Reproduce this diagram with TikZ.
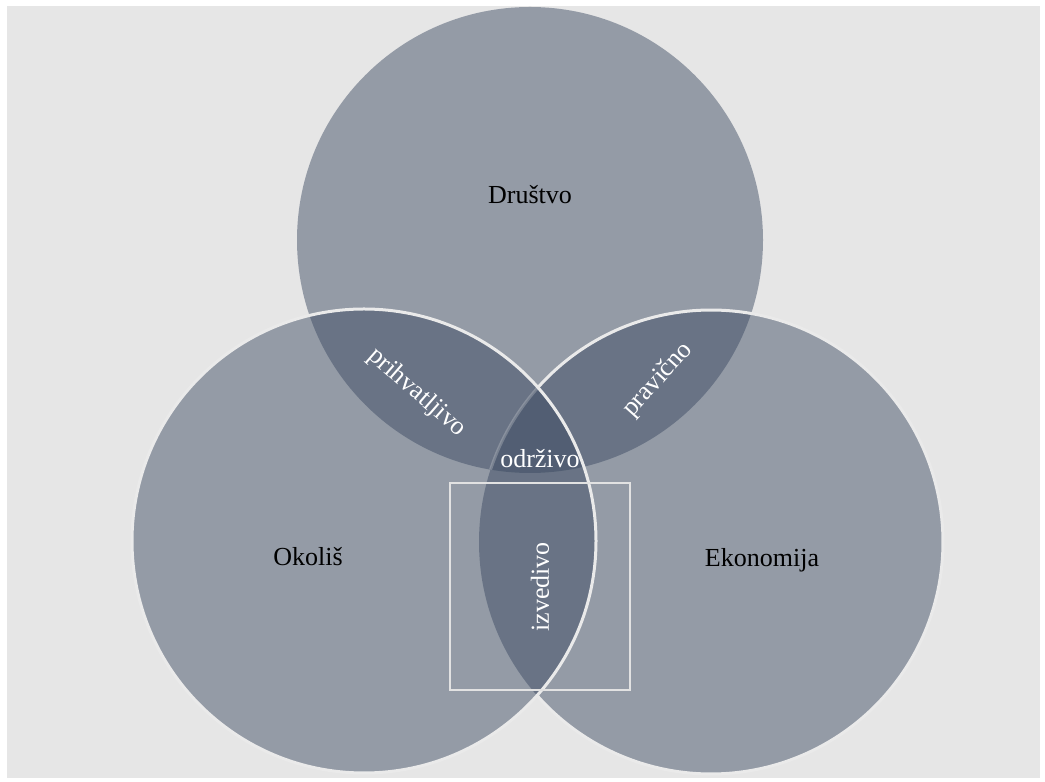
\documentclass[tikz,border=0pt]{standalone}
\usepackage{fontspec}
\setmainfont{Liberation Serif}
\definecolor{vennc}{RGB}{57,72,96}
\definecolor{bgc}{RGB}{230,230,230}
\definecolor{rimc}{RGB}{234,234,234}
\definecolor{boxc}{RGB}{226,226,226}
\begin{document}
\begin{tikzpicture}[x=1pt,y=1pt,
  venn/.style={fill=vennc, fill opacity=0.47},
  rim/.style={draw=rimc, line width=3pt},
  lbl/.style={font=\fontsize{26}{30}\selectfont, text=black, inner sep=0pt},
  wlbl/.style={lbl, text=white}]
\useasboundingbox (0,0) rectangle (1045,782);
\fill[white] (0,0) rectangle (1045,782);
\fill[bgc] (7,4) rectangle (1040,776);
\coordinate (T) at (530,542);
\coordinate (L) at (364,241);
\coordinate (R) at (711,240);
\fill[venn] (T) circle[radius=233];
\fill[venn] (R) circle[radius=232];
\fill[venn] (L) circle[radius=232];
\draw[rim] (R) ++(138.3:232) arc[start angle=138.3, end angle=-138.5, radius=232];
\draw[rim, draw opacity=0.25] (R) ++(138.3:232) arc[start angle=138.3, end angle=161.8, radius=232];
\draw[rim] (L) circle[radius=232];
\node[draw=boxc, line width=2.5pt, minimum width=180pt, minimum height=207pt, inner sep=0pt] (box) at (540,195.5) {};
\node[lbl] (drustvo) at (530,587) {Društvo};
\node[lbl] (okolis) at (308,225) {Okoliš};
\node[lbl] (ekonomija) at (762,222) {Ekonomija};
\node[wlbl] (odrzivo) at (540,323) {održivo};
\node[wlbl, rotate=-41] (prihvatljivo) at (417,389) {prihvatljivo};
\node[wlbl, rotate=48] (pravicno) at (658,402) {pravično};
\node[wlbl, rotate=90] (izvedivo) at (540,195) {izvedivo};
\end{tikzpicture}
\end{document}
